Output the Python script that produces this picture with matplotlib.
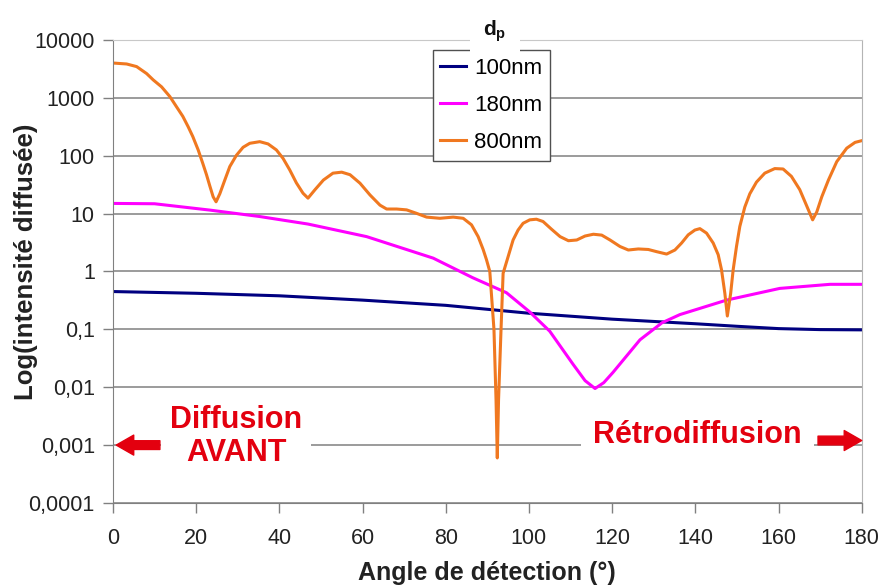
import numpy as np
import matplotlib.pyplot as plt
from matplotlib.ticker import FixedLocator, FixedFormatter

plt.rcParams['font.family'] = ['Liberation Sans', 'DejaVu Sans']
plt.rcParams['mathtext.fontset'] = 'custom'
plt.rcParams['mathtext.rm'] = 'Liberation Sans'
plt.rcParams['mathtext.bf'] = 'Liberation Sans:bold'

# data (angle in degrees, scattered intensity)
angle_100 = [0, 20, 40, 60, 80, 100, 120, 140, 150, 160, 170, 180]
int_100 = [0.45, 0.42, 0.38, 0.32, 0.26, 0.19, 0.15, 0.125, 0.113, 0.103, 0.099, 0.098]

angle_180 = [0, 10, 23.3, 35.3, 46.9, 61, 77, 86.5, 94.6, 100.2, 105, 110.6,
             113.5, 115.9, 118, 120.2, 126.7, 132, 136.3, 147.5, 160.3, 172.4, 180]
int_180 = [15, 14.8, 11.5, 8.9, 6.6, 4.0, 1.7, 0.78, 0.43, 0.20, 0.093, 0.025,
           0.013, 0.0095, 0.012, 0.018, 0.066, 0.13, 0.18, 0.32, 0.51, 0.6, 0.6]

angle_800 = [0, 3.3, 5.7, 8.1, 9.7, 11.7, 13.7, 15.3, 16.8, 18.1, 19.2, 20.5,
             21.6, 22.5, 23.3, 24.1, 24.8, 25.7, 26.9, 28.1, 29.7, 31.3, 32.9,
             35.3, 37.3, 39.3, 40.9, 42.5, 44.1, 45.7, 46.9, 48.6, 50.6, 52.9,
             55.0, 57.0, 59.4, 61.8, 64.2, 65.8, 68.2, 70.6, 73.0, 75.4, 78.6,
             81.8, 84.2, 86.2, 87.8, 89.0, 89.8, 90.6, 91.6, 92.1, 92.4, 92.7,
             93.3, 93.8, 95.0, 96.2, 97.4, 98.6, 100.2, 101.8, 103.4, 105.4,
             107.5, 109.5, 111.5, 113.5, 115.5, 117.5, 119.5, 121.9, 123.9,
             126.3, 128.7, 130.7, 133.1, 135.1, 136.7, 138.3, 139.9, 141.1,
             142.7, 144.3, 145.5, 146.3, 147.1, 147.7, 148.5, 149.1, 149.9,
             150.7, 151.9, 153.1, 154.7, 156.7, 159.1, 161.1, 163.1, 165.1,
             166.7, 168.2, 169.2, 170.4, 172.0, 174.0, 176.4, 178.4, 180]
int_800 = [4000, 3850, 3470, 2630, 2040, 1550, 1050, 700, 480, 316, 215, 126,
           74, 47, 30, 19.5, 16, 22, 38, 65, 102, 140, 164,
           175, 160, 126, 90, 57, 34, 22.5, 18.5, 26, 38, 50,
           52, 47, 33.5, 21, 14, 12, 12, 11.6, 10.1, 8.7, 8.3,
           8.7, 8.3, 6.4, 4.0, 2.4, 1.6, 1.0, 0.1, 0.006, 0.0006, 0.006,
           0.1, 0.93, 1.8, 3.5, 5.2, 6.8, 7.8, 8.0, 7.3, 5.4,
           4.0, 3.4, 3.5, 4.1, 4.4, 4.25, 3.5, 2.7, 2.35,
           2.45, 2.4, 2.2, 2.0, 2.35, 3.1, 4.3, 5.2, 5.5,
           4.6, 3.1, 1.95, 1.07, 0.42, 0.17, 0.42, 1.07, 2.7,
           6.0, 13, 22, 35, 50, 60, 59, 44, 26,
           14, 7.8, 10.7, 19.5, 38, 79, 135, 170, 182]

labels = ['100nm', '180nm', '800nm']
colors = ['#000080', '#ff00ff', '#f07820']

x_ticks = [0, 20, 40, 60, 80, 100, 120, 140, 160, 180]
y_ticks = [1e-4, 1e-3, 1e-2, 1e-1, 1, 10, 100, 1000, 10000]
y_ticklabels = ['0,0001', '0,001', '0,01', '0,1', '1', '10', '100', '1000', '10000']

red = '#e3000f'

fig = plt.figure(figsize=(8.82, 5.88), dpi=100)
ax = fig.add_axes([0.128, 0.1446, 0.849, 0.7874])

ax.plot(angle_100, int_100, color=colors[0], lw=2.2, label=labels[0])
ax.plot(angle_180, int_180, color=colors[1], lw=2.2, label=labels[1])
ax.plot(angle_800, int_800, color=colors[2], lw=2.2, label=labels[2],
        solid_joinstyle='round')

ax.set_yscale('log')
ax.set_xlim(0, 180)
ax.set_ylim(1e-4, 1e4)
ax.xaxis.set_major_locator(FixedLocator(x_ticks))
ax.yaxis.set_major_locator(FixedLocator(y_ticks))
ax.yaxis.set_major_formatter(FixedFormatter(y_ticklabels))
ax.yaxis.set_minor_locator(FixedLocator([]))

ax.yaxis.grid(True, color='#808080', lw=1.1)
ax.get_ygridlines()[-1].set_color('#c8c8c8')
ax.set_axisbelow(True)

for s in ['left', 'bottom']:
    ax.spines[s].set_color('#808080')
ax.spines['top'].set_color('#c8c8c8')
ax.spines['right'].set_color('#b4b4b4')

ax.tick_params(direction='out', length=7, width=1, color='#808080',
               labelsize=15.5, labelcolor='#222222')
ax.tick_params(axis='x', pad=11)
ax.tick_params(axis='y', pad=6)

ax.set_xlabel('Angle de détection (°)', fontsize=18, fontweight='bold', color='#222222')
ax.set_ylabel('Log(intensité diffusée)', fontsize=18.5, fontweight='bold', color='#222222')
ax.xaxis.set_label_coords(0.5, -0.125)
ax.yaxis.set_label_coords(-0.1, 0.52)

leg = ax.legend(loc='upper left', bbox_to_anchor=(0.427, 0.978), fontsize=16,
                frameon=True, fancybox=False, edgecolor='#505050', framealpha=1,
                handlelength=1.17, handletextpad=0.36, borderpad=0.35,
                labelspacing=0.72, borderaxespad=0)
leg.get_frame().set_linewidth(1.0)
leg.set_zorder(5)

ax.text(0.51, 1.02, r'$\mathbf{d}_\mathbf{p}$', transform=ax.transAxes,
        ha='center', va='center', fontsize=15, color='#111111', zorder=6,
        clip_on=False,
        bbox=dict(boxstyle='square,pad=0.65', fc='white', ec='none'))

ax.text(29.6, 0.0014, 'Diffusion\nAVANT', ha='center', va='center', color=red,
        fontsize=22, fontweight='bold', linespacing=1.1, zorder=4,
        bbox=dict(boxstyle='square,pad=0.3', fc='white', ec='none'))
ax.text(140.6, 0.0015, 'Rétrodiffusion', ha='center', va='center', color=red,
        fontsize=22, fontweight='bold', zorder=4,
        bbox=dict(boxstyle='square,pad=0.4', fc='white', ec='none'))

arrow = dict(arrowstyle='simple,head_length=0.7,head_width=0.8,tail_width=0.35',
             color=red, shrinkA=0, shrinkB=0, mutation_scale=18)
ax.annotate('', xy=(0.8, 0.001), xytext=(11.3, 0.001), arrowprops=arrow, zorder=6)
ax.annotate('', xy=(180, 0.0012), xytext=(169.5, 0.0012), arrowprops=arrow, zorder=6)

fig.savefig('out.png', dpi=100, facecolor='white')
